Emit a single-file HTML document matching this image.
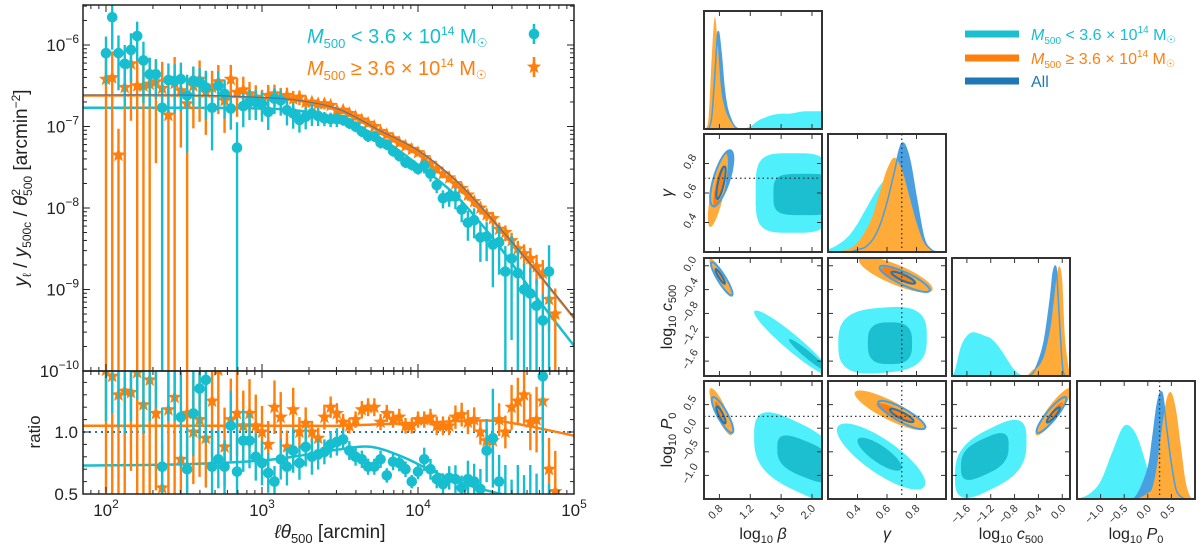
<!DOCTYPE html>
<html><head><meta charset="utf-8">
<style>
html,body{margin:0;padding:0;background:#fff;}
svg{display:block;font-family:"Liberation Sans","DejaVu Sans",sans-serif;}
</style></head>
<body>
<svg id="fig" width="1200" height="548" viewBox="0 0 1200 548"></svg>
<script>
// ---------------- LEFT PANEL DATA ----------------
const xBins=[2.00,2.04,2.08,2.12,2.16,2.20,2.24,2.28,2.32,2.36,2.40,2.44,2.48,2.52,2.56,2.60,2.64,2.68,2.72,2.76,2.80,2.84,2.88,2.92,2.96,3.00,3.04,3.08,3.12,3.16,3.20,3.24,3.28,3.32,3.36,3.40,3.44,3.48,3.52,3.56,3.60,3.64,3.68,3.72,3.76,3.80,3.84,3.88,3.92,3.96,4.00,4.04,4.08,4.12,4.16,4.20,4.24,4.28,4.32,4.36,4.40,4.44,4.48,4.52,4.56,4.60,4.64,4.68,4.72,4.76,4.80,4.84,4.88];
const cyanLogY=[-6.10,-5.66,-6.10,-6.23,-6.06,-5.89,-6.19,-6.36,-6.36,-6.77,-6.43,-6.44,-6.42,-6.62,-6.44,-6.46,-6.52,-6.77,-6.50,-6.60,-6.78,-7.26,-6.75,-6.70,-6.70,-6.72,-6.82,-6.66,-6.68,-6.80,-6.84,-6.92,-6.88,-6.84,-6.87,-6.90,-6.91,-6.91,-6.92,-6.96,-7.00,-7.06,-7.12,-7.12,-7.20,-7.22,-7.30,-7.36,-7.44,-7.47,-7.52,-7.48,-7.58,-7.72,-7.88,-7.86,-7.86,-8.02,-8.18,-8.15,-8.36,-8.35,-8.45,-8.42,-8.78,-8.62,-8.80,-9.00,-9.05,-9.20,-9.38,-8.78,null];
const orangeLogY=[-6.42,-6.40,-7.35,-6.52,-6.23,-6.50,-6.50,-6.48,-6.45,-6.53,-6.86,-6.47,-6.56,-6.72,-6.50,-6.42,-6.58,-6.52,-6.45,-6.68,-6.42,-6.58,-6.55,-6.60,-6.64,-6.68,-6.62,-6.60,-6.64,-6.62,-6.66,-6.64,-6.70,-6.70,-6.72,-6.72,-6.74,-6.80,-6.80,-6.84,-6.88,-6.92,-6.96,-7.00,-7.06,-7.10,-7.15,-7.20,-7.24,-7.28,-7.32,-7.38,-7.45,-7.52,-7.58,-7.63,-7.70,-7.76,-7.84,-7.92,-8.00,-8.08,-8.13,-8.26,-8.30,-8.40,-8.50,-8.56,-8.62,-8.72,-8.80,-9.12,-9.30];
const cyanRelErr=[0.6,0.6,0.65,0.7,0.6,0.5,0.7,0.6,0.5,1.1,0.6,0.6,0.6,0.8,0.5,0.5,0.6,0.7,0.5,0.5,0.45,1.05,0.45,0.4,0.4,0.4,0.4,0.35,0.35,0.35,0.35,0.3,0.3,0.3,0.25,0.2,0.2,0.2,0.15,0.15,0.15,0.15,0.15,0.15,0.15,0.15,0.15,0.15,0.15,0.15,0.15,0.2,0.2,0.2,0.25,0.25,0.3,0.3,0.4,0.4,0.5,0.5,0.7,0.6,1.05,0.9,1.05,1.05,1.05,1.1,1.1,1.1,1.1];
const orangeRelErr=[1.1,1.1,1.1,1.1,0.8,1.1,1.1,1.1,0.9,1.1,1.1,1.1,0.8,1.1,0.7,0.7,0.7,0.6,0.6,0.6,0.5,0.5,0.45,0.4,0.4,0.35,0.35,0.3,0.3,0.25,0.25,0.2,0.2,0.15,0.15,0.15,0.12,0.12,0.1,0.1,0.1,0.1,0.1,0.1,0.1,0.1,0.1,0.1,0.1,0.1,0.1,0.1,0.1,0.12,0.12,0.12,0.14,0.14,0.15,0.15,0.17,0.18,0.2,0.2,0.22,0.25,0.25,0.3,0.35,0.4,0.45,0.6,1.05];
const orangeRatio=[1.5,1.45,1.3,1.33,1.32,1.48,1.22,1.42,1.15,0.55,1.18,1.28,0.78,1.15,1.0,1.1,0.95,1.25,1.5,0.88,1.1,1.15,1.05,1.15,1.05,1.0,0.9,1.2,1.12,0.88,1.18,1.0,1.07,1.0,0.95,1.12,1.2,1.15,1.08,1.05,1.1,1.18,1.2,1.2,1.08,1.15,1.1,1.12,1.05,1.05,1.1,1.1,1.12,1.05,1.05,1.05,1.12,1.14,1.08,1.1,1.0,0.93,0.93,1.1,1.0,1.2,1.25,1.3,1.08,1.1,1.25,0.7,0.52];
const cyanRatio=[1.7,1.8,1.7,1.7,1.7,1.8,1.7,1.7,1.7,0.72,1.7,1.7,1.12,0.7,1.15,1.35,1.42,0.72,0.78,0.72,1.05,0.68,0.93,0.93,0.8,0.75,0.67,0.6,0.78,0.72,0.85,0.75,0.88,0.8,0.82,0.84,0.9,0.92,0.94,0.85,0.8,0.78,0.72,0.72,0.78,0.65,0.76,0.75,0.7,0.6,0.68,0.78,0.7,0.62,0.58,0.63,0.62,0.55,0.62,0.6,0.54,0.85,0.95,0.6,0.45,0.4,0.45,0.4,0.45,0.4,1.45,0.35,null];
const modelX=[1.85,2.5,3.0,3.25,3.5,3.75,4.0,4.25,4.5,4.75,5.0];
const modelOrange=[-6.62,-6.62,-6.65,-6.69,-6.80,-7.05,-7.30,-7.68,-8.20,-8.76,-9.35];
const modelCyan=[-6.77,-6.77,-6.78,-6.81,-6.91,-7.13,-7.47,-7.86,-8.42,-9.07,-9.69];
const ratioModelX=[1.85,2.5,3.0,3.3,3.5,3.7,3.9,4.1,4.3,4.5,4.7,5.0];
const ratioModelOrange=[1.05,1.05,1.05,1.05,1.05,1.06,1.07,1.08,1.09,1.09,1.05,0.97];
const ratioModelCyan=[0.73,0.74,0.77,0.82,0.86,0.88,0.80,0.68,0.58,0.51,0.46,0.42];
const xTickLabels=["2","3","4","5"];
const yTickExps=["−6","−7","−8","−9","−10"];
const ratioTicks=[0.5,1.0];

// ---------------- CORNER DATA ----------------
const rangeB=[0.6,2.13], rangeG=[0.2,1.0], rangeC=[-1.85,0.13], rangeP=[-1.5,1.0];
const ticksB=[0.8,1.2,1.6,2.0], ticksG=[0.4,0.6,0.8], ticksC=[-1.6,-1.2,-0.8,-0.4,0.0], ticksP=[-1.0,-0.5,0.0,0.5];
const truthG=0.7, truthP=0.25;
const gridB=[0.62,0.66,0.70,0.74,0.78,0.82,0.86,0.90,0.95,1.0,1.05,1.1,1.2,1.3,1.4,1.5,1.6,1.7,1.8,1.9,2.0,2.13];
const margBCyan=[0,0,0,0,0,0,0,0,0,0,0,0,0.02,0.07,0.10,0.12,0.13,0.13,0.14,0.15,0.15,0.15];
const margBOrange=[0,0.1,0.6,0.95,0.70,0.35,0.20,0.12,0.06,0.03,0,0,0,0,0,0,0,0,0,0,0,0];
const margBBlue=[0,0,0.1,0.45,0.82,0.65,0.35,0.18,0.08,0.02,0,0,0,0,0,0,0,0,0,0,0,0];
const gridG=[0.20,0.25,0.30,0.35,0.40,0.45,0.50,0.55,0.60,0.65,0.70,0.75,0.80,0.85,0.90,0.95,1.0];
const margGCyan=[0.02,0.05,0.09,0.15,0.24,0.35,0.46,0.56,0.62,0.58,0.46,0.32,0.18,0.07,0.02,0,0];
const margGOrange=[0,0,0.01,0.03,0.08,0.17,0.30,0.50,0.70,0.80,0.70,0.48,0.25,0.08,0.02,0,0];
const margGBlue=[0,0,0,0,0.02,0.04,0.10,0.22,0.42,0.68,0.92,0.80,0.45,0.12,0.02,0,0];
const gridC=[-1.85,-1.8,-1.7,-1.6,-1.5,-1.4,-1.3,-1.2,-1.1,-1.0,-0.9,-0.8,-0.7,-0.6,-0.5,-0.4,-0.3,-0.2,-0.15,-0.1,-0.05,0.0,0.05,0.13];
const margCCyan=[0,0.05,0.25,0.34,0.37,0.36,0.34,0.32,0.27,0.20,0.12,0.05,0.01,0,0,0,0,0,0,0,0,0,0,0];
const margCOrange=[0,0,0,0,0,0,0,0,0,0,0,0,0,0,0.05,0.08,0.18,0.4,0.6,0.82,0.93,0.8,0.3,0];
const margCBlue=[0,0,0,0,0,0,0,0,0,0,0,0,0,0,0.02,0.12,0.3,0.65,0.88,0.9,0.5,0.1,0,0];
const gridP=[-1.5,-1.25,-1.0,-0.75,-0.5,-0.25,0,0.1,0.2,0.3,0.4,0.5,0.6,0.7,0.8,0.9,1.0];
const margPCyan=[0,0.04,0.15,0.40,0.62,0.55,0.25,0.12,0.07,0.03,0.01,0,0,0,0,0,0];
const margPOrange=[0,0,0,0,0,0,0.05,0.1,0.3,0.6,0.85,0.9,0.75,0.45,0.15,0.02,0];
const margPBlue=[0,0,0,0,0,0.02,0.25,0.5,0.8,0.9,0.6,0.3,0.08,0.02,0,0,0];
// 2D contours: [cx, cy, ax, ay, rho, n]
const bgCyan=[[1.75,0.6,0.48,0.27,0,4],[1.9,0.59,0.4,0.14,0,4]];
const bgOrange=[[0.78,0.62,0.13,0.25,0.75,2],[0.79,0.64,0.07,0.14,0.75,2]];
const bgBlue=[[0.83,0.70,0.15,0.19,0.7,2],[0.82,0.67,0.06,0.11,0.75,2]];
const bcCyan=[[1.75,-1.3,0.5,0.55,-0.95,2],[1.95,-1.5,0.25,0.27,-0.96,2]];
const bcOrange=[[0.82,-0.2,0.15,0.32,-0.9,2],[0.81,-0.18,0.07,0.15,-0.9,2]];
const bcBlue=[[0.83,-0.22,0.14,0.28,-0.9,2],[0.81,-0.18,0.06,0.12,-0.9,2]];
const bpCyan=[[1.8,-0.6,0.55,0.85,-0.5,3],[1.9,-0.65,0.35,0.45,-0.5,3]];
const bpOrange=[[0.82,0.35,0.15,0.5,-0.85,2],[0.81,0.33,0.07,0.24,-0.85,2]];
const bpBlue=[[0.84,0.28,0.14,0.38,-0.85,2],[0.82,0.28,0.06,0.18,-0.85,2]];
const gcCyan=[[0.57,-1.25,0.3,0.55,0.1,3],[0.62,-1.3,0.15,0.35,0,3]];
const gcOrange=[[0.66,-0.15,0.25,0.3,-0.8,2],[0.68,-0.17,0.12,0.15,-0.8,2]];
const gcBlue=[[0.72,-0.22,0.17,0.22,-0.85,2],[0.71,-0.2,0.08,0.1,-0.85,2]];
const gpCyan=[[0.56,-0.6,0.3,0.7,-0.8,2],[0.55,-0.55,0.15,0.35,-0.8,2]];
const gpOrange=[[0.62,0.38,0.24,0.42,-0.85,2],[0.65,0.33,0.12,0.2,-0.85,2]];
const gpBlue=[[0.7,0.28,0.16,0.3,-0.85,2],[0.7,0.27,0.08,0.14,-0.85,2]];
const cpCyan=[[-1.2,-0.65,0.6,0.75,0.5,3],[-1.3,-0.6,0.4,0.45,0.5,3]];
const cpOrange=[[-0.15,0.35,0.3,0.5,0.9,2],[-0.13,0.33,0.14,0.22,0.9,2]];
const cpBlue=[[-0.18,0.28,0.25,0.38,0.9,2],[-0.15,0.28,0.11,0.16,0.9,2]];

const NS="http://www.w3.org/2000/svg";
const svg=document.getElementById('fig');
const C_CY="#17becf", C_OR="#ff7f0e", C_BL="#1f77b4";
function mk(tag,attrs,parent){const e=document.createElementNS(NS,tag);for(const k in attrs)e.setAttribute(k,attrs[k]);(parent||svg).appendChild(e);return e;}
function smooth(pts){if(pts.length<2)return"";let d="M"+pts[0][0].toFixed(1)+","+pts[0][1].toFixed(1);for(let i=0;i<pts.length-1;i++){const p0=pts[i-1]||pts[i],p1=pts[i],p2=pts[i+1],p3=pts[i+2]||p2;const c1=[p1[0]+(p2[0]-p0[0])/6,p1[1]+(p2[1]-p0[1])/6],c2=[p2[0]-(p3[0]-p1[0])/6,p2[1]-(p3[1]-p1[1])/6];d+="C"+c1[0].toFixed(1)+","+c1[1].toFixed(1)+" "+c2[0].toFixed(1)+","+c2[1].toFixed(1)+" "+p2[0].toFixed(1)+","+p2[1].toFixed(1);}return d;}

// ---------------- LEFT PANEL ----------------
const L=83,R=574,TOP=5,MID=371,BOT=494;
const xl=l=>106+(l-2)*156;
const ym=l=>45+(-6-l)*81.5;
const yr=r=>432-(r-1)*124;
const defs=mk('defs',{});
const cp1=mk('clipPath',{id:'clipMain'},defs);mk('rect',{x:L,y:TOP,width:R-L,height:MID-TOP},cp1);
const cp2=mk('clipPath',{id:'clipRatio'},defs);mk('rect',{x:L,y:MID,width:R-L,height:BOT-MID},cp2);
const gMain=mk('g',{'clip-path':'url(#clipMain)'});


const gRat=mk('g',{'clip-path':'url(#clipRatio)'});



function star(cx,cy,ro,ri){let d="";for(let i=0;i<10;i++){const r=i%2?ri:ro,a=-Math.PI/2+i*Math.PI/5;d+=(i?"L":"M")+(cx+r*Math.cos(a)).toFixed(1)+","+(cy+r*Math.sin(a)).toFixed(1);}return d+"Z";}

function drawSeries(g,vals,errs,color,isStar,mode,name){
  for(let i=0;i<xBins.length;i++){
    const v=vals[i]; if(v==null)continue;
    const x=xl(xBins[i]);
    let y,y1,y2;
    if(mode==='log'){const lin=Math.pow(10,v),s=lin*errs[i];y=ym(v);y1=ym(Math.log10(lin+s));y2=(lin-s>0)?ym(Math.log10(lin-s)):MID+20;}
    else{const s=v*errs[i]*0.6;y=yr(v);y1=yr(v+s);y2=yr(v-s);}
    const eb=mk('line',{x1:x,x2:x,y1:y1,y2:y2,stroke:color,'stroke-width':2.4},g);
    
    
    let m;
    if(isStar)m=mk('path',{d:star(x,y,7.5,3.2),fill:color},g);
    else m=mk('circle',{cx:x,cy:y,r:5.3,fill:color},g);
    
    
  }
}
const mO=mk('path',{d:smooth(modelX.map((l,i)=>[xl(l),ym(modelOrange[i])])),stroke:C_OR,'stroke-width':2.5,fill:'none'},gMain);


const mC=mk('path',{d:smooth(modelX.map((l,i)=>[xl(l),ym(modelCyan[i])])),stroke:C_CY,'stroke-width':2.5,fill:'none'},gMain);


drawSeries(gMain,orangeLogY,orangeRelErr,C_OR,true,'log','high-mass');
drawSeries(gMain,cyanLogY,cyanRelErr,C_CY,false,'log','low-mass');
const mA=mk('path',{d:smooth(modelX.map((l,i)=>[xl(l),ym(modelOrange[i])-0.5])),stroke:"#3b6fa0",'stroke-width':1.2,fill:'none',opacity:0.8},gMain);



const rl=mk('line',{x1:L,x2:R,y1:yr(1),y2:yr(1),stroke:C_BL,'stroke-width':2,'stroke-dasharray':'2,4'},gRat);


const rmO=mk('path',{d:smooth(ratioModelX.map((l,i)=>[xl(l),yr(ratioModelOrange[i])])),stroke:C_OR,'stroke-width':2.5,fill:'none'},gRat);


const rmC=mk('path',{d:smooth(ratioModelX.map((l,i)=>[xl(l),yr(ratioModelCyan[i])])),stroke:C_CY,'stroke-width':2.5,fill:'none'},gRat);


drawSeries(gRat,orangeRatio,orangeRelErr,C_OR,true,'lin','ratio-high-mass');
drawSeries(gRat,cyanRatio,cyanRelErr,C_CY,false,'lin','ratio-low-mass');

const f1=mk('rect',{x:L,y:TOP,width:R-L,height:MID-TOP,fill:'none',stroke:'#222','stroke-width':1.5});


const f2=mk('rect',{x:L,y:MID,width:R-L,height:BOT-MID,fill:'none',stroke:'#222','stroke-width':1.5});


for(let d=1;d<=4;d++){for(let k=1;k<10;k++){const l=d+Math.log10(k);const x=xl(l);if(x<L||x>R)continue;const len=k===1?7:4;
  [[TOP,1],[MID,-1],[MID,1],[BOT,-1]].forEach(([y0,s])=>mk('line',{x1:x,x2:x,y1:y0,y2:y0+s*len,stroke:'#222','stroke-width':1}));}}
for(let e=-10;e<=-6;e++){for(let k=1;k<10;k++){const l=e+Math.log10(k);const y=ym(l);if(y<TOP||y>MID)continue;const len=k===1?7:4;
  mk('line',{x1:L,x2:L+len,y1:y,y2:y,stroke:'#222','stroke-width':1});mk('line',{x1:R,x2:R-len,y1:y,y2:y,stroke:'#222','stroke-width':1});}}
[0.5,0.6,0.7,0.8,0.9,1.0,1.1,1.2,1.3,1.4].forEach(r=>{const y=yr(r);const len=(r===0.5||r===1.0)?7:4;mk('line',{x1:L,x2:L+len,y1:y,y2:y,stroke:'#222','stroke-width':1});mk('line',{x1:R,x2:R-len,y1:y,y2:y,stroke:'#222','stroke-width':1});});
xTickLabels.forEach((e,i)=>{const x=xl(2+i);const t=mk('text',{x:x,y:516,'text-anchor':'middle','font-size':17,fill:'#222'});t.innerHTML='10<tspan dy="-8" font-size="12">'+e+'</tspan>';
  
  });
yTickExps.forEach((e,i)=>{const y=ym(-6-i);const t=mk('text',{x:79,y:y+6,'text-anchor':'end','font-size':17,fill:'#222'});t.innerHTML='10<tspan dy="-8" font-size="12">'+e+'</tspan>';
  
  });
ratioTicks.forEach(r=>{const t=mk('text',{x:78,y:yr(r)+6,'text-anchor':'end','font-size':17,fill:'#222'});t.textContent=r.toFixed(1);
  
  });
</script>
<script>
(function(){
const svg=document.getElementById('fig');const NS="http://www.w3.org/2000/svg";
function tx(html,attrs,name){const t=document.createElementNS(NS,'text');for(const k in attrs)t.setAttribute(k,attrs[k]);t.innerHTML=html;


svg.appendChild(t);return t;}
tx('<tspan font-style="italic">ℓθ</tspan><tspan font-size="13" dy="5">500</tspan><tspan dy="-5"> [arcmin]</tspan>',{x:330,y:538,'text-anchor':'middle','font-size':19,fill:'#222'},'x-axis-title');
tx('<tspan font-style="italic">y</tspan><tspan font-size="12" dy="4">ℓ</tspan><tspan dy="-4"> / </tspan><tspan font-style="italic">y</tspan><tspan font-size="12" dy="4">500c</tspan><tspan dy="-4"> / </tspan><tspan font-style="italic">θ</tspan><tspan font-size="12" dy="-7">2</tspan><tspan font-size="12" dx="-7" dy="12">500</tspan><tspan dy="-5">  [arcmin</tspan><tspan font-size="12" dy="-7">−2</tspan><tspan dy="7">]</tspan>',{x:0,y:0,'text-anchor':'middle','font-size':19,fill:'#222',transform:'translate(27,188) rotate(-90)'},'y-axis-title');
tx('ratio',{x:0,y:0,'text-anchor':'middle','font-size':17,fill:'#222',transform:'translate(40,432) rotate(-90)'},'ratio-axis-title');
tx('<tspan font-style="italic">M</tspan><tspan font-size="13" dy="5">500</tspan><tspan dy="-5"> &lt; 3.6 × 10</tspan><tspan font-size="12" dy="-8">14</tspan><tspan dy="8"> M</tspan><tspan font-size="12" dy="4">☉</tspan>',{x:307,y:43,'font-size':20,fill:'#17becf'},'legend-low-mass-label');
tx('<tspan font-style="italic">M</tspan><tspan font-size="13" dy="5">500</tspan><tspan dy="-5"> ≥ 3.6 × 10</tspan><tspan font-size="12" dy="-8">14</tspan><tspan dy="8"> M</tspan><tspan font-size="12" dy="4">☉</tspan>',{x:307,y:75,'font-size':20,fill:'#ff7f0e'},'legend-high-mass-label');
function el(tag,attrs,name){const e=document.createElementNS(NS,tag);for(const k in attrs)e.setAttribute(k,attrs[k]);


svg.appendChild(e);return e;}
el('line',{x1:534,x2:534,y1:24,y2:44,stroke:'#17becf','stroke-width':2.6},'legend-low-mass-errorbar');
el('circle',{cx:534,cy:34,r:5.3,fill:'#17becf'},'legend-low-mass-marker');
el('line',{x1:534,x2:534,y1:57,y2:77,stroke:'#ff7f0e','stroke-width':2.6},'legend-high-mass-errorbar');
let d="";for(let i=0;i<10;i++){const r=i%2?3.2:7.5,a=-Math.PI/2+i*Math.PI/5;d+=(i?"L":"M")+(534+r*Math.cos(a)).toFixed(1)+","+(67+r*Math.sin(a)).toFixed(1);}
el('path',{d:d+"Z",fill:'#ff7f0e'},'legend-high-mass-marker');
})();
</script>
<script>
(function(){
const svg=document.getElementById('fig');const NS="http://www.w3.org/2000/svg";
function mk(tag,attrs,parent){const e=document.createElementNS(NS,tag);for(const k in attrs)e.setAttribute(k,attrs[k]);(parent||svg).appendChild(e);return e;}
function smooth(pts){let d="M"+pts[0][0].toFixed(1)+","+pts[0][1].toFixed(1);for(let i=0;i<pts.length-1;i++){const p0=pts[i-1]||pts[i],p1=pts[i],p2=pts[i+1],p3=pts[i+2]||p2;const c1=[p1[0]+(p2[0]-p0[0])/6,p1[1]+(p2[1]-p0[1])/6],c2=[p2[0]-(p3[0]-p1[0])/6,p2[1]-(p3[1]-p1[1])/6];d+="C"+c1[0].toFixed(1)+","+c1[1].toFixed(1)+" "+c2[0].toFixed(1)+","+c2[1].toFixed(1)+" "+p2[0].toFixed(1)+","+p2[1].toFixed(1);}return d;}
const colX=[704,828,952,1077],rowY=[11,134,258,381],S=118;
const ranges=[rangeB,rangeG,rangeC,rangeP];
const ticks=[ticksB,ticksG,ticksC,ticksP];
const sx=(j,v)=>colX[j]+(v-ranges[j][0])/(ranges[j][1]-ranges[j][0])*S;
const sy=(i,v)=>rowY[i]+S-(v-ranges[i][0])/(ranges[i][1]-ranges[i][0])*S;
const CYo="#4ff0fc",CYi="#1bbfcf",ORo="#ffab3a",ORi="#ff7f0e",BLo="#4a9fe0",BLi="#1f77b4";
const defs=svg.querySelector('defs');
function panelGroup(i,j,name){const cp=mk('clipPath',{id:'cp'+i+j},defs);mk('rect',{x:colX[j],y:rowY[i],width:S,height:S},cp);
 const g=mk('g',{'clip-path':'url(#cp'+i+j+')'});
 
 
 return g;}
function contour(g,i,j,c,fill,stroke,sw){const [cx,cy,ax,ay,rho,n]=c;const pts=[];
 for(let k=0;k<=72;k++){const t=k/72*2*Math.PI;const ct=Math.cos(t),st=Math.sin(t);
  const u=Math.sign(ct)*Math.pow(Math.abs(ct),2/n),v=Math.sign(st)*Math.pow(Math.abs(st),2/n);
  const x=cx+ax*u,y=cy+ay*(rho*u+Math.sqrt(1-rho*rho)*v);pts.push(sx(j,x).toFixed(1)+","+sy(i,y).toFixed(1));}
 const p=mk('path',{d:"M"+pts.join("L")+"Z",fill:fill,stroke:stroke||'none','stroke-width':sw||0},g);
 
 }
function marg(g,j,grid,vals,fill,stroke){const pts=grid.map((x,k)=>[sx(j,x),rowY[j]+S-vals[k]*S]);
 const d=smooth(pts)+"L"+pts[pts.length-1][0]+","+(rowY[j]+S)+"L"+pts[0][0]+","+(rowY[j]+S)+"Z";
 const p=mk('path',{d:d,fill:fill,stroke:stroke,'stroke-width':1.5},g);
 
 }
const margs=[[gridB,margBCyan,margBBlue,margBOrange],[gridG,margGCyan,margGBlue,margGOrange],[gridC,margCCyan,margCBlue,margCOrange],[gridP,margPCyan,margPBlue,margPOrange]];
const margNames=['beta-marginal','gamma-marginal','c500-marginal','p0-marginal'];
margs.forEach((m,j)=>{const g=panelGroup(j,j,margNames[j]);
 marg(g,j,m[0],m[1],CYo,'none');
 marg(g,j,m[0],m[2],BLo,'none');
 marg(g,j,m[0],m[3],ORo,'none');
 marg(g,j,m[0],m[2],'none',BLo);
 if(j===1)mk('line',{x1:sx(1,truthG),x2:sx(1,truthG),y1:rowY[1],y2:rowY[1]+S,stroke:'#333','stroke-width':1.3,'stroke-dasharray':'1.5,3'},g);
 if(j===3)mk('line',{x1:sx(3,truthP),x2:sx(3,truthP),y1:rowY[3],y2:rowY[3]+S,stroke:'#333','stroke-width':1.3,'stroke-dasharray':'1.5,3'},g);
});
const pairs=[[1,0,bgCyan,bgOrange,bgBlue,'beta-gamma-contours'],[2,0,bcCyan,bcOrange,bcBlue,'beta-c500-contours'],[3,0,bpCyan,bpOrange,bpBlue,'beta-p0-contours'],[2,1,gcCyan,gcOrange,gcBlue,'gamma-c500-contours'],[3,1,gpCyan,gpOrange,gpBlue,'gamma-p0-contours'],[3,2,cpCyan,cpOrange,cpBlue,'c500-p0-contours']];
pairs.forEach(([i,j,cy,or,bl,name])=>{const g=panelGroup(i,j,name);
 contour(g,i,j,cy[0],CYo);contour(g,i,j,cy[1],CYi);
 contour(g,i,j,bl[0],BLo);
 contour(g,i,j,or[0],ORo);contour(g,i,j,or[1],ORi);
 contour(g,i,j,bl[0],'none',BLo,2);contour(g,i,j,bl[1],'none',BLi,2);
 const dash={stroke:'#333','stroke-width':1.3,'stroke-dasharray':'1.5,3'};
 if(j===1)mk('line',Object.assign({x1:sx(1,truthG),x2:sx(1,truthG),y1:rowY[i],y2:rowY[i]+S},dash),g);
 if(i===1)mk('line',Object.assign({x1:colX[j],x2:colX[j]+S,y1:sy(1,truthG),y2:sy(1,truthG)},dash),g);
 if(i===3)mk('line',Object.assign({x1:colX[j],x2:colX[j]+S,y1:sy(3,truthP),y2:sy(3,truthP)},dash),g);
});
for(let i=0;i<4;i++)for(let j=0;j<=i;j++){
 const f=mk('rect',{x:colX[j],y:rowY[i],width:S,height:S,fill:'none',stroke:'#333','stroke-width':2});
 
 
 ticks[j].forEach(v=>{const x=sx(j,v);mk('line',{x1:x,x2:x,y1:rowY[i]+S,y2:rowY[i]+S-5,stroke:'#333','stroke-width':1});mk('line',{x1:x,x2:x,y1:rowY[i],y2:rowY[i]+5,stroke:'#333','stroke-width':1});});
 if(i!==j)ticks[i].forEach(v=>{const y=sy(i,v);mk('line',{x1:colX[j],x2:colX[j]+5,y1:y,y2:y,stroke:'#333','stroke-width':1});mk('line',{x1:colX[j]+S,x2:colX[j]+S-5,y1:y,y2:y,stroke:'#333','stroke-width':1});});
}
const fmt=v=>(v<0?'−':'')+Math.abs(v).toFixed(1);
for(let j=0;j<4;j++)ticks[j].forEach(v=>{const x=sx(j,v);const t=mk('text',{x:0,y:0,'text-anchor':'end','font-size':11,fill:'#333',transform:'translate('+(x+4)+','+(rowY[3]+S+10)+') rotate(-45)'});t.textContent=fmt(v);
 
 });
for(let i=1;i<4;i++)ticks[i].forEach(v=>{const y=sy(i,v);const t=mk('text',{x:0,y:0,'text-anchor':'middle','font-size':11,fill:'#333',transform:'translate('+(colX[0]-11)+','+y+') rotate(-60)'});t.textContent=fmt(v);
 
 });
function tx(html,attrs,name){const t=mk('text',attrs);t.innerHTML=html;
 
 return t;}
const xt=['log<tspan font-size="11" dy="4">10</tspan><tspan dy="-4" font-style="italic"> β</tspan>','<tspan font-style="italic">γ</tspan>','log<tspan font-size="11" dy="4">10</tspan><tspan dy="-4" font-style="italic"> c</tspan><tspan font-size="11" dy="4">500</tspan>','log<tspan font-size="11" dy="4">10</tspan><tspan dy="-4" font-style="italic"> P</tspan><tspan font-size="11" dy="4">0</tspan>'];
xt.forEach((h,j)=>tx(h,{x:colX[j]+S/2,y:539,'text-anchor':'middle','font-size':16,fill:'#222'},'corner-x-axis-title'));
[1,2,3].forEach(i=>tx(xt[i],{x:0,y:0,'text-anchor':'middle','font-size':16,fill:'#222',transform:'translate(672,'+(rowY[i]+S/2)+') rotate(-90)'},'corner-y-axis-title'));
const lg=[[CYi,'<tspan font-style="italic">M</tspan><tspan font-size="10" dy="4">500</tspan><tspan dy="-4"> &lt; 3.6 × 10</tspan><tspan font-size="10" dy="-7">14</tspan><tspan dy="7"> M</tspan><tspan font-size="10" dy="3">☉</tspan>',34,'#17becf'],[ORi,'<tspan font-style="italic">M</tspan><tspan font-size="10" dy="4">500</tspan><tspan dy="-4"> ≥ 3.6 × 10</tspan><tspan font-size="10" dy="-7">14</tspan><tspan dy="7"> M</tspan><tspan font-size="10" dy="3">☉</tspan>',58,'#ff7f0e'],[BLi,'All',81,'#1f77b4']];
lg.forEach(([c,h,y,tc])=>{const l=mk('line',{x1:965,x2:1019,y1:y,y2:y,stroke:c,'stroke-width':7});
 
 
 tx(h,{x:1031,y:y+6,'font-size':16,fill:tc},'corner-legend-label');});
})();
</script>
</body></html>
